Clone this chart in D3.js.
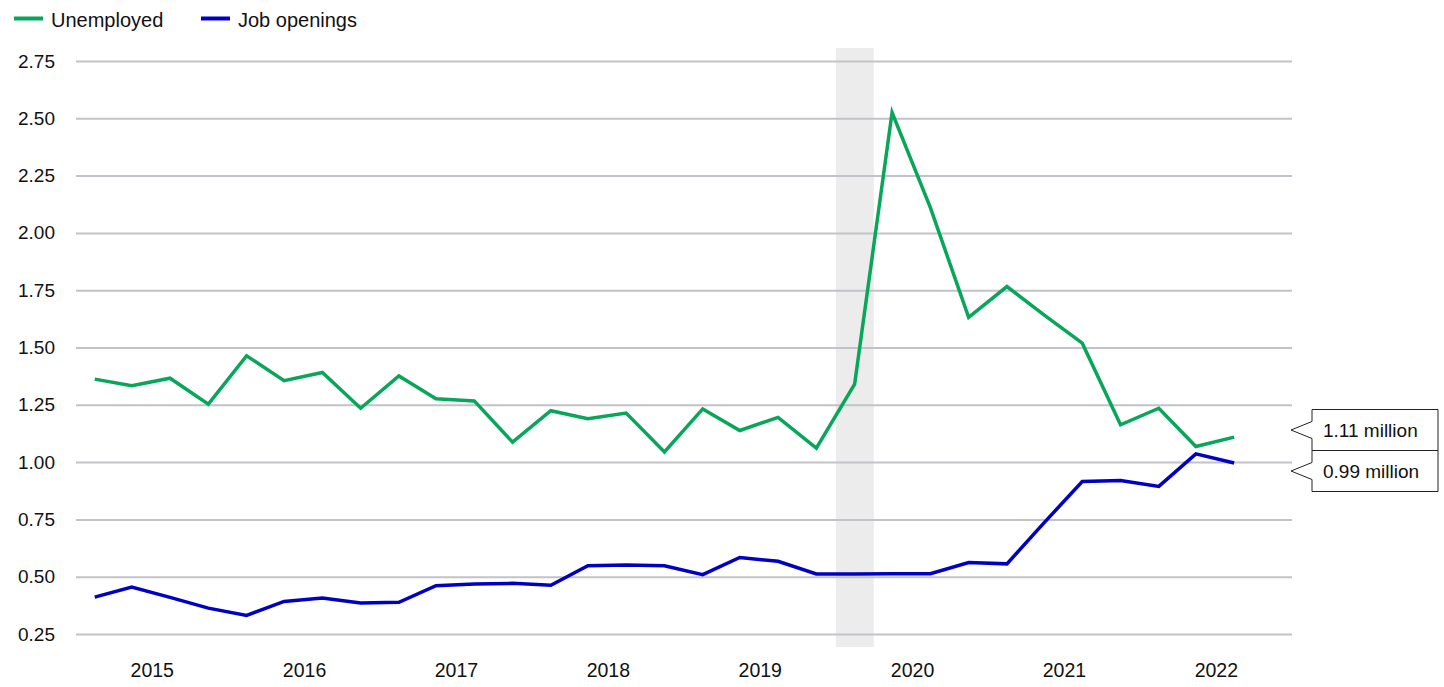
<!DOCTYPE html>
<html>
<head>
<meta charset="utf-8">
<script src="https://cdn.jsdelivr.net/npm/d3@7/dist/d3.min.js"></script>
<style>
    body { margin: 0; background: #fff; }
    svg { display: block; font-family: Arial, "Liberation Sans", sans-serif; }
</style>
</head>
<body>
<svg id="chart" width="1444" height="687"></svg>
<script>
// quarterly, 2015 Q1 .. 2022 Q3 (millions)
const years = [2015, 2016, 2017, 2018, 2019, 2020, 2021, 2022];
const unemployed = [1.362, 1.333, 1.366, 1.253, 1.464, 1.355, 1.391, 1.235, 1.376, 1.276, 1.267, 1.087,
    1.224, 1.189, 1.214, 1.044, 1.232, 1.138, 1.195, 1.061, 1.340, 2.525, 2.110, 1.632,
    1.766, 1.642, 1.519, 1.163, 1.235, 1.068, 1.109];
const jobOpenings = [0.411, 0.455, 0.410, 0.363, 0.331, 0.392, 0.407, 0.385, 0.388, 0.461, 0.468, 0.471,
    0.463, 0.548, 0.551, 0.548, 0.509, 0.584, 0.567, 0.512, 0.512, 0.513, 0.513, 0.562,
    0.556, 0.735, 0.915, 0.920, 0.894, 1.036, 0.996];
const yTicks = [0.25, 0.5, 0.75, 1.0, 1.25, 1.5, 1.75, 2.0, 2.25, 2.5, 2.75];
const recession = [new Date(2020, 0, 1), new Date(2020, 3, 1)];
const endLabels = ["1.11 million", "0.99 million"];

(function (d3) {
    'use strict';

    const svg = d3.select("#chart");
    const green = "#08a65a";
    const blue = "#0000c4";

    // mid-point of each quarter
    const dates = unemployed.map((d, i) => new Date(2015 + Math.floor(i / 4), (i % 4) * 3 + 1, 15));

    const x = d3.scaleTime()
        .domain([new Date(2015, 0, 1), new Date(2023, 0, 1)])
        .range([76, 1292]);
    const y = d3.scaleLinear()
        .domain([0.25, 2.75])
        .range([634, 61]);

    // recession band
    svg.append("rect")
        .attr("x", x(recession[0]))
        .attr("width", x(recession[1]) - x(recession[0]))
        .attr("y", 48)
        .attr("height", 599)
        .style("fill", "#ececec");

    // y axis + grid
    const yAxis = svg.append("g")
        .attr("transform", "translate(1292,0)")
        .call(d3.axisLeft(y).tickValues(yTicks).tickSize(1292 - 76).tickPadding(21).tickFormat(d3.format(".2f")));
    yAxis.select(".domain").remove();
    yAxis.selectAll("line").style("stroke", "#c3c2c8").style("stroke-width", 2);
    yAxis.selectAll("text").style("font-size", "19px").style("fill", "#111");

    // x axis, labels in middle of year
    const xAxis = svg.append("g")
        .attr("transform", "translate(0,660)")
        .call(d3.axisBottom(x).tickValues(years.map(yr => new Date(yr, 6, 2))).tickSize(0).tickFormat(d3.timeFormat("%Y")));
    xAxis.select(".domain").remove();
    xAxis.selectAll("text").style("font-size", "19.5px").style("fill", "#111");

    const line = d3.line()
        .x((d, i) => x(dates[i]))
        .y(d => y(d));

    svg.append("path")
        .datum(unemployed)
        .attr("d", line)
        .style("fill", "none")
        .style("stroke", green)
        .style("stroke-width", 3.5)
        .style("stroke-linejoin", "miter");

    svg.append("path")
        .datum(jobOpenings)
        .attr("d", line)
        .style("fill", "none")
        .style("stroke", blue)
        .style("stroke-width", 3.5)
        .style("stroke-linejoin", "miter");

    // legend
    const legend = svg.append("g");
    const items = [{name: "Unemployed", color: green, x: 14}, {name: "Job openings", color: blue, x: 201}];
    items.forEach(it => {
        legend.append("line")
            .attr("x1", it.x).attr("x2", it.x + 29)
            .attr("y1", 18.5).attr("y2", 18.5)
            .style("stroke", it.color)
            .style("stroke-width", 4);
        legend.append("text")
            .attr("x", it.x + 37)
            .attr("y", 27)
            .style("font-size", "20px")
            .style("fill", "#111")
            .text(it.name);
    });

    // end-value callouts
    const boxX = 1312, boxW = 126, boxH = 41, tipX = 1291;
    endLabels.forEach((label, i) => {
        const top = 409.5 + i * boxH;
        const mid = top + boxH / 2;
        const path = `M${boxX},${top} H${boxX + boxW} V${top + boxH} H${boxX} V${mid + 8.5} L${tipX},${mid} L${boxX},${mid - 8.5} Z`;
        svg.append("path")
            .attr("d", path)
            .style("fill", "#fff")
            .style("stroke", "#222")
            .style("stroke-width", 1);
        svg.append("text")
            .attr("x", boxX + 11)
            .attr("y", mid)
            .attr("dy", "0.35em")
            .style("font-size", "19px")
            .style("fill", "#111")
            .text(label);
    });

}(d3));
</script>
</body>
</html>
